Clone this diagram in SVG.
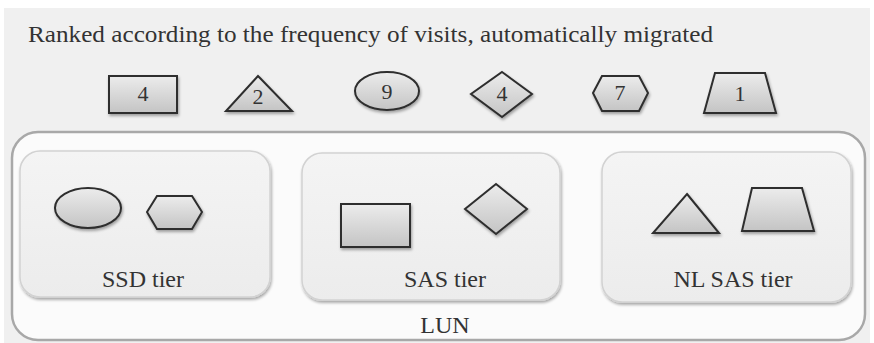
<svg xmlns="http://www.w3.org/2000/svg" width="874" height="343" viewBox="0 0 874 343">
<defs>
<linearGradient id="shapeG" x1="0" y1="0" x2="0" y2="1">
<stop offset="0" stop-color="#ececec"/>
<stop offset="1" stop-color="#c4c4c4"/>
</linearGradient>
<linearGradient id="tierG" x1="0" y1="0" x2="0" y2="1">
<stop offset="0" stop-color="#f4f4f4"/>
<stop offset="1" stop-color="#ececec"/>
</linearGradient>
<filter id="sh" x="-20%" y="-20%" width="140%" height="140%">
<feGaussianBlur in="SourceAlpha" stdDeviation="1.5"/>
<feOffset dx="1" dy="2" result="b"/>
<feComponentTransfer><feFuncA type="linear" slope="0.35"/></feComponentTransfer>
<feMerge><feMergeNode/><feMergeNode in="SourceGraphic"/></feMerge>
</filter>
</defs>
<style>
.shape{fill:url(#shapeG);stroke:#2e2e2e;stroke-width:2;filter:url(#sh)}
.tier{fill:url(#tierG);stroke:#d2d2d2;stroke-width:1.5;filter:url(#sh)}
text{font-family:"Liberation Serif","Times New Roman","DejaVu Serif",serif;fill:#333}
.num{font-size:22px;text-anchor:middle}
.lbl{font-size:24px;text-anchor:middle}
.title{font-size:23px}
</style>
<rect x="0" y="0" width="874" height="343" fill="#ffffff"/>
<rect x="4" y="8" width="866" height="335" fill="#f0f0f0"/>
<text class="title" x="28" y="42" textLength="685" lengthAdjust="spacingAndGlyphs">Ranked according to the frequency of visits, automatically migrated</text>

<g id="top-rect"><rect class="shape" x="109" y="76" width="68" height="37"/><text class="num" x="143" y="101">4</text></g>
<g id="top-triangle"><polygon class="shape" points="258,76 292,111 226,111"/><text class="num" x="258" y="104">2</text></g>
<g id="top-ellipse"><ellipse class="shape" cx="387" cy="91" rx="32" ry="19"/><text class="num" x="387" y="99">9</text></g>
<g id="top-diamond"><polygon class="shape" points="502,72 532,94 502,117 471,94"/><text class="num" x="502" y="101">4</text></g>
<g id="top-hexagon"><polygon class="shape" points="593,93 602,76 639,76 648,93 639,111 602,111"/><text class="num" x="620" y="100">7</text></g>
<g id="top-trapezoid"><polygon class="shape" points="715,73 765,73 776,113 704,113"/><text class="num" x="740" y="101">1</text></g>

<g id="lun"><rect x="12" y="132" width="853" height="208" rx="26" fill="#fbfbfb" stroke="#a8a8a8" stroke-width="2.5"/><text class="lbl" x="445" y="333">LUN</text></g>

<g id="ssd-tier">
<rect class="tier" x="20" y="151" width="250" height="146" rx="20"/>
<ellipse class="shape" cx="88" cy="208" rx="33" ry="20"/>
<polygon class="shape" points="147,212 157,196 192,196 202,212 192,229 157,229"/>
<text class="lbl" x="143" y="287">SSD tier</text>
</g>
<g id="sas-tier">
<rect class="tier" x="302" y="153" width="258" height="147" rx="20"/>
<rect class="shape" x="341" y="204" width="69" height="43"/>
<polygon class="shape" points="496,184 527,209 496,234 465,209"/>
<text class="lbl" x="445" y="287">SAS tier</text>
</g>
<g id="nlsas-tier">
<rect class="tier" x="602" y="152" width="249" height="150" rx="20"/>
<polygon class="shape" points="687,194 719,233 653,233"/>
<polygon class="shape" points="752,188 802,188 814,231 742,231"/>
<text class="lbl" x="733" y="287">NL SAS tier</text>
</g>
<g id="connectors"/>
</svg>
